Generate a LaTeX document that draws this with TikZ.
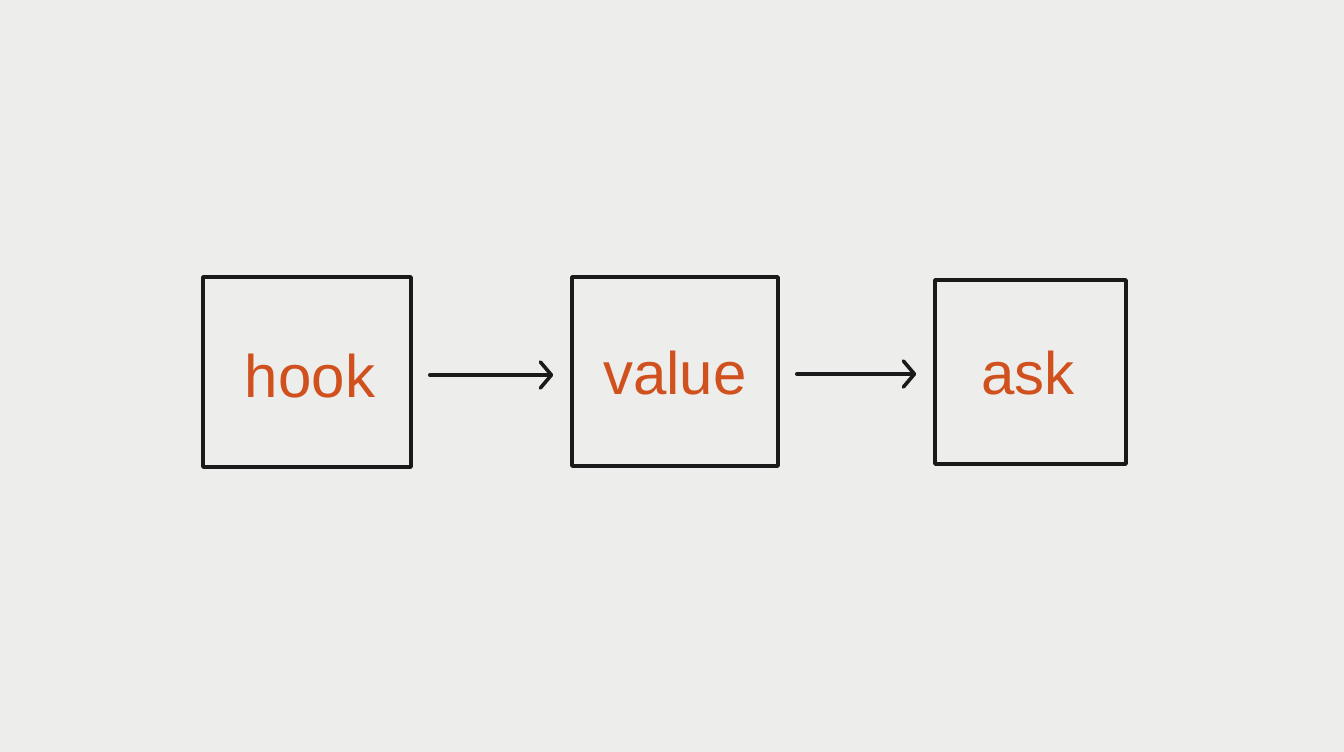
\documentclass[tikz,border=0pt]{standalone}
\usepackage{fontspec}
\setmainfont{Liberation Sans}
\usetikzlibrary{arrows.meta}
\definecolor{paper}{HTML}{EDEDEB}
\definecolor{ink}{HTML}{1A1A1A}
\definecolor{label}{HTML}{D0501E}
\tikzset{
  box/.style={draw=ink, line width=3.6pt, line join=round, minimum width=#1, inner sep=0pt},
  word/.style={text=label, font=\fontsize{60}{60}\selectfont},
  conn/.style={draw=ink, line width=3.6pt, line cap=round, -{Straight Barb[length=11pt, width=26pt, line width=3.6pt, round]}},
}
\begin{document}
\begin{tikzpicture}[x=1pt, y=-1pt]
\fill[paper] (0,0) rectangle (1344,752);
\useasboundingbox (0,0) rectangle (1344,752);
\node[box=208pt, minimum height=190pt] (b1) at (307,372) {};
\node[box=206pt, minimum height=189pt] (b2) at (675,371.5) {};
\node[box=191pt, minimum height=184pt] (b3) at (1030.5,372) {};
\node[word, anchor=base] (t1) at (310,397) {hook};
\node[word, anchor=base] (t2) at (675,394) {value};
\node[word, anchor=base] (t3) at (1028,394) {ask};
\draw[conn] ([xshift=17pt,yshift=-3pt]b1.east) -- ([xshift=-17pt,yshift=-3.5pt]b2.west);
\draw[conn] ([xshift=17pt,yshift=-2.5pt]b2.east) -- ([xshift=-17pt,yshift=-2pt]b3.west);
\end{tikzpicture}
\end{document}
